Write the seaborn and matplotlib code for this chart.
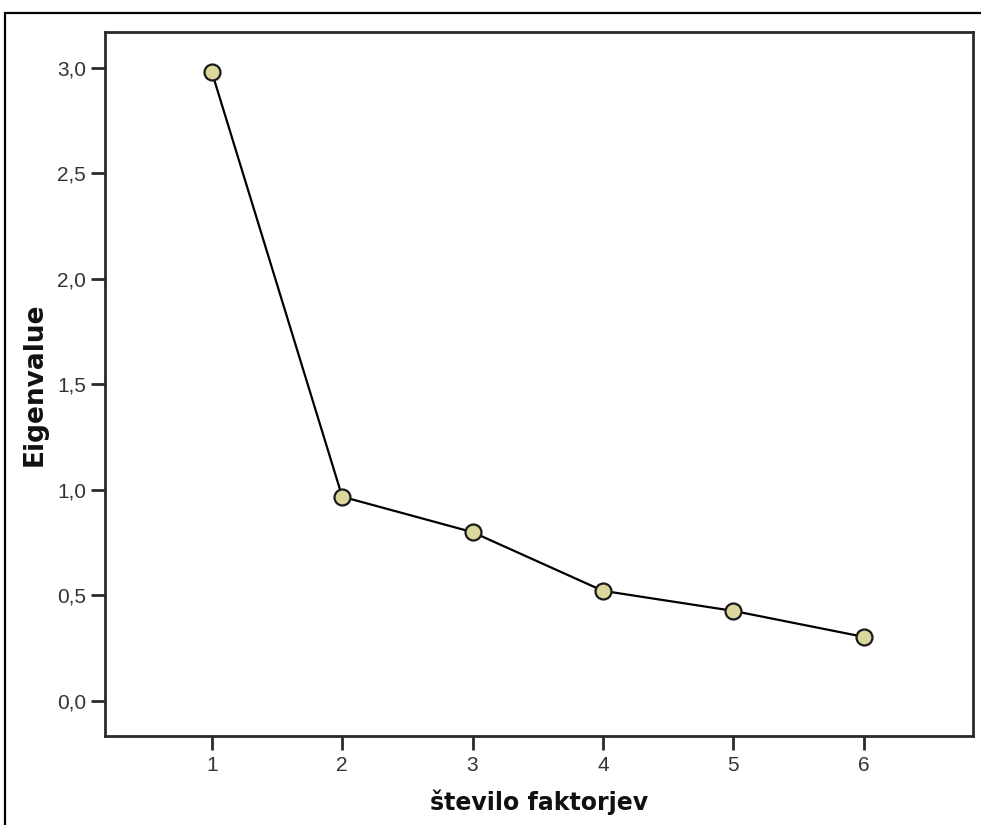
import matplotlib
matplotlib.use("Agg")
import matplotlib.pyplot as plt
import seaborn as sns
import pandas as pd
from matplotlib.patches import Rectangle

factors = [1, 2, 3, 4, 5, 6]
eigenvalues = [2.98, 0.968, 0.80, 0.522, 0.427, 0.304]
y_ticks = [0.0, 0.5, 1.0, 1.5, 2.0, 2.5, 3.0]
y_tick_labels = ["0,0", "0,5", "1,0", "1,5", "2,0", "2,5", "3,0"]
x_label = "število faktorjev"
y_label = "Eigenvalue"

sns.set_style("white")
plt.rcParams['font.family'] = ['DejaVu Sans']

df = pd.DataFrame({"factor": factors, "eigen": eigenvalues})

fig = plt.figure(figsize=(9.81, 8.25), dpi=100)
ax = fig.add_axes([105/981, 1-736/825, (973-105)/981, (736-32)/825])

sns.lineplot(data=df, x="factor", y="eigen", ax=ax, color="black", linewidth=1.6,
             marker="o", markersize=11.5, markerfacecolor="#DCD79C",
             markeredgecolor="#1a1a1a", markeredgewidth=1.6, zorder=3)

ax.set_xlim(0.18, 6.84)
ax.set_ylim(-0.166, 3.17)
ax.set_xticks(factors)
ax.set_xticklabels([str(f) for f in factors])
ax.set_yticks(y_ticks)
ax.set_yticklabels(y_tick_labels)

for s in ax.spines.values():
    s.set_color("#2a2a2a")
    s.set_linewidth(2.0)

ax.tick_params(axis="both", direction="out", length=10, width=2.0, color="#2a2a2a",
               labelsize=15, labelcolor="#333333", left=True, bottom=True)
ax.tick_params(axis="y", pad=3.5)
ax.tick_params(axis="x", pad=4.5)
for lab in ax.get_xticklabels() + ax.get_yticklabels():
    lab.set_family(["Liberation Sans", "DejaVu Sans"])

ax.set_xlabel(x_label, fontsize=17, fontweight="bold", labelpad=10, color="#111111")
ax.set_ylabel(y_label, fontsize=19, fontweight="bold", labelpad=7, color="#111111")

frame = Rectangle((5/981, -0.1), 1.2, 1.1 - 13/825, transform=fig.transFigure,
                  fill=False, edgecolor="black", linewidth=1.6, clip_on=False)
fig.patches.append(frame)

fig.savefig("out.png", dpi=100, facecolor="white")
